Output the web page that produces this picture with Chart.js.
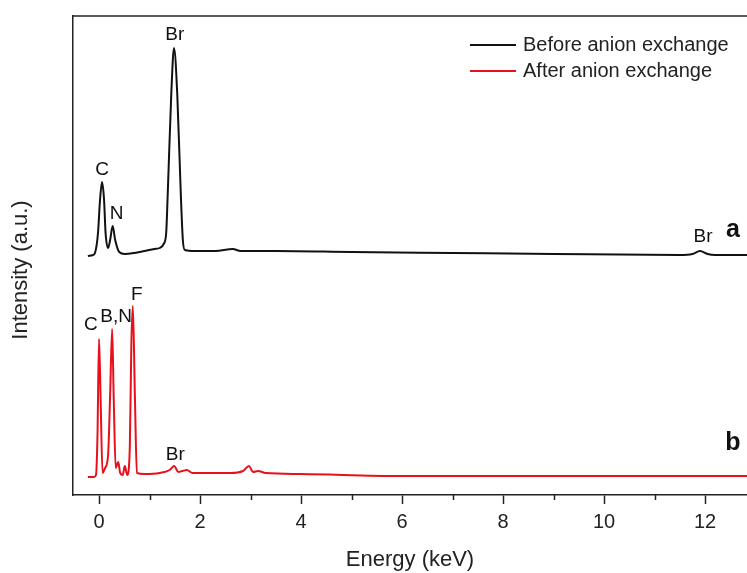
<!DOCTYPE html>
<html>
<head>
<meta charset="utf-8">
<script src="https://cdn.jsdelivr.net/npm/chart.js@4.4.1/dist/chart.umd.min.js"></script>
<style>
  html, body { margin: 0; padding: 0; background: #fff; }
</style>
</head>
<body>
<canvas id="eds" width="747" height="573"></canvas>
<script>
// EDS spectra, energy in keV, intensity in arbitrary units (spectra offset)
const beforeEnergy = [-0.22, -0.12, -0.08, -0.02, 0.02, 0.06, 0.1, 0.13, 0.18, 0.22, 0.27, 0.32, 0.4, 0.51, 0.7, 0.9, 1.1, 1.2, 1.28, 1.33, 1.36, 1.43, 1.485, 1.55, 1.62, 1.66, 1.7, 1.9, 2.3, 2.65, 2.8, 3.5, 5, 7, 9, 11.5, 11.75, 11.9, 12.05, 12.2, 12.85];
const beforeIntensity = [239, 240, 242, 262, 295, 313, 295, 262, 247, 255, 269, 255, 243, 241, 242, 244, 246, 247, 251, 262, 300, 400, 447, 400, 300, 255, 245, 244, 244, 246, 244, 244, 243, 242, 241, 240, 241, 244, 241, 240, 240];

const afterEnergy = [-0.22, -0.1, -0.06, -0.03, 0.0, 0.03, 0.07, 0.12, 0.18, 0.22, 0.26, 0.29, 0.33, 0.38, 0.42, 0.47, 0.51, 0.56, 0.61, 0.64, 0.67, 0.71, 0.75, 0.9, 1.2, 1.4, 1.49, 1.57, 1.65, 1.74, 1.85, 2.2, 2.6, 2.85, 2.97, 3.05, 3.15, 3.3, 4, 6, 8, 10, 12.85];
const afterIntensity = [18, 18, 20, 60, 156, 100, 22, 27, 40, 100, 166, 100, 27, 33, 22, 20, 29, 20, 48, 150, 189, 100, 22, 21, 22, 25, 29, 23, 24, 25, 22, 22, 22, 24, 29, 23, 24, 22, 21, 19, 19, 19, 19];

const seriesNames = ['Before anion exchange', 'After anion exchange'];
const seriesColors = ['#111111', '#e8101a'];

// peak labels: text, energy (keV), intensity (a.u.)
const peakText = ['Br', 'C', 'N', 'Br', 'C', 'B,N', 'F', 'Br'];
const peakEnergy = [1.5, 0.06, 0.35, 11.96, -0.16, 0.34, 0.75, 1.51];
const peakIntensity = [460, 325, 281, 258, 170, 178, 200, 40];

// curve tags
const tagText = ['a', 'b'];
const tagEnergy = [12.55, 12.55];
const tagIntensity = [265, 52];

const font = '"Liberation Sans", Arial, sans-serif';

const frame = {
  id: 'frame',
  afterDraw(chart) {
    const { ctx, chartArea: a, scales: { x, y } } = chart;
    ctx.save();
    ctx.strokeStyle = '#222';
    ctx.lineWidth = 1.5;
    ctx.beginPath();
    ctx.moveTo(a.left, a.top);
    ctx.lineTo(a.right + 2, a.top);
    ctx.stroke();
    // minor ticks
    ctx.beginPath();
    for (let k = 1; k <= 11; k += 2) {
      const px = Math.round(x.getPixelForValue(k)) + 0.5;
      ctx.moveTo(px, a.bottom);
      ctx.lineTo(px, a.bottom + 5);
    }
    ctx.stroke();

    // peak labels
    ctx.fillStyle = '#111';
    ctx.font = '19px ' + font;
    ctx.textAlign = 'center';
    ctx.textBaseline = 'middle';
    peakText.forEach((t, i) => {
      ctx.fillText(t, x.getPixelForValue(peakEnergy[i]), y.getPixelForValue(peakIntensity[i]));
    });
    ctx.font = 'bold 25px ' + font;
    tagText.forEach((t, i) => {
      ctx.fillText(t, x.getPixelForValue(tagEnergy[i]), y.getPixelForValue(tagIntensity[i]));
    });

    // y title
    ctx.save();
    ctx.translate(21, 270);
    ctx.rotate(-Math.PI / 2);
    ctx.font = '22px ' + font;
    ctx.fillStyle = '#222';
    ctx.fillText('Intensity (a.u.)', 0, 0);
    ctx.restore();

    // legend
    ctx.textAlign = 'left';
    ctx.font = '20px ' + font;
    chart.data.datasets.forEach((ds, i) => {
      const ly = 45 + i * 26;
      ctx.strokeStyle = ds.borderColor;
      ctx.lineWidth = 2;
      ctx.beginPath();
      ctx.moveTo(470, ly);
      ctx.lineTo(516, ly);
      ctx.stroke();
      ctx.fillStyle = '#222';
      ctx.fillText(ds.label, 523, ly);
    });
    ctx.restore();
  }
};

new Chart(document.getElementById('eds'), {
  type: 'line',
  data: {
    datasets: [
      {
        label: seriesNames[0],
        data: beforeEnergy.map((e, i) => ({ x: e, y: beforeIntensity[i] })),
        borderColor: seriesColors[0],
        borderWidth: 2
      },
      {
        label: seriesNames[1],
        data: afterEnergy.map((e, i) => ({ x: e, y: afterIntensity[i] })),
        borderColor: seriesColors[1],
        borderWidth: 2
      }
    ]
  },
  options: {
    responsive: false,
    animation: false,
    elements: {
      point: { radius: 0 },
      line: { cubicInterpolationMode: 'monotone', borderJoinStyle: 'round' }
    },
    layout: {
      padding: { top: 16, right: 0, left: 0, bottom: 0 }
    },
    plugins: {
      legend: { display: false },
      tooltip: { enabled: false }
    },
    scales: {
      x: {
        type: 'linear',
        min: -0.515,
        max: 12.83,
        afterFit: s => { s.height = 78; },
        ticks: {
          stepSize: 2,
          includeBounds: false,
          color: '#222',
          padding: 6,
          font: { family: font, size: 20 }
        },
        grid: {
          drawOnChartArea: false,
          tickLength: 9,
          tickColor: '#222',
          tickWidth: 1.5
        },
        border: { color: '#222', width: 1.5 },
        title: {
          display: true,
          text: 'Energy (keV)',
          color: '#222',
          padding: { top: 0, bottom: 0 },
          font: { family: font, size: 22 }
        }
      },
      y: {
        min: 0,
        max: 479,
        afterFit: s => { s.width = 73; },
        ticks: { display: false },
        grid: { display: false },
        border: { color: '#222', width: 1.5 }
      }
    }
  },
  plugins: [frame]
});
</script>
</body>
</html>
